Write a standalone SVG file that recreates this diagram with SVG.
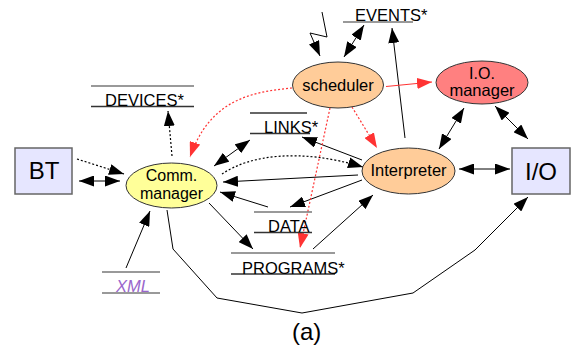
<svg xmlns="http://www.w3.org/2000/svg" width="577" height="354" viewBox="0 0 577 354">
<defs>
<marker id="ah" markerUnits="userSpaceOnUse" markerWidth="15" markerHeight="11" refX="15" refY="5.5" orient="auto-start-reverse"><path d="M0,0 L15,5.5 L0,11 z" fill="#000"/></marker>
<marker id="ahr" markerUnits="userSpaceOnUse" markerWidth="15" markerHeight="11" refX="15" refY="5.5" orient="auto-start-reverse"><path d="M0,0 L15,5.5 L0,11 z" fill="#ff3333"/></marker>
</defs>
<style>
text{font-family:"Liberation Sans",Arial,sans-serif;fill:#000}
.box{fill:#e6e6ff;stroke:#666;stroke-width:1.5}
.ell{stroke:#333;stroke-width:1}
.c{fill:none;stroke:#000;stroke-width:1}
.d{fill:none;stroke:#000;stroke-width:1.2;stroke-dasharray:2,2}
.r{fill:none;stroke:#ff3333;stroke-width:1.2;stroke-dasharray:2,2}
.rs{fill:none;stroke:#ff3333;stroke-width:1}
.a{marker-end:url(#ah)}
.aa{marker-end:url(#ah);marker-start:url(#ah)}
.ar{marker-end:url(#ahr)}
.lt{stroke:#777;stroke-width:1.5}
.lb{stroke:#333;stroke-width:1.5}
.lbl{font-size:16.5px}
</style>
<g id="connectors">
<path class="d a" d="M77,159 L124,174"/>
<path class="c aa" d="M79,181 L120,181"/>
<path class="d a" d="M172,156 L168,111"/>
<path class="r ar" d="M292,88 C250,92 210,100 190,157"/>
<path class="c aa" d="M214,166 L250,140"/>
<path class="d a" d="M222,174 C250,155 300,148 363,167"/>
<path class="c a" d="M358,175 L223,182"/>
<path class="c a" d="M362,160 L302,137"/>
<path class="c a" d="M268,207 L220,192"/>
<path class="c a" d="M362,180 L290,207"/>
<path class="r ar" d="M330,108 L300,248"/>
<path class="r ar" d="M352,107 L377,148"/>
<path class="c a" d="M209,203 L253,249"/>
<path class="c a" d="M313,249 L373,195"/>
<path class="c a" d="M167,210 L173,249 L217,298 L302,313 L413,293 L475,250 L528,197"/>
<path class="c a" d="M126,268 L150,211"/>
<path class="c a" d="M322,12 L327,37 L310,33 L320,56"/>
<path class="c aa" d="M344,57 L364,25"/>
<path class="c a" d="M405,138 L392,28"/>
<path class="rs ar" d="M386,86.5 L432,82"/>
<path class="c aa" d="M439,149 L464,108"/>
<path class="c aa" d="M495,106 L528,139"/>
<path class="c aa" d="M459,169 L510,169"/>
</g>
<g id="BT">
<rect class="box" x="15" y="148" width="57" height="46"/>
<text x="44" y="179" font-size="24" text-anchor="middle">BT</text>
</g>
<g id="IO">
<rect class="box" x="512" y="148" width="58" height="46"/>
<text x="541" y="180" font-size="24" text-anchor="middle">I/O</text>
</g>
<g id="comm">
<ellipse class="ell" cx="171.5" cy="185.5" rx="45.5" ry="22.5" fill="#ffff99"/>
<text x="171.5" y="181" font-size="16" text-anchor="middle">Comm.</text>
<text x="171.5" y="199" font-size="16" text-anchor="middle">manager</text>
</g>
<g id="scheduler">
<ellipse class="ell" cx="338" cy="85" rx="45.5" ry="23" fill="#ffcc99"/>
<text x="338" y="91" font-size="16.5" text-anchor="middle">scheduler</text>
</g>
<g id="iomanager">
<ellipse class="ell" cx="482" cy="82.5" rx="46" ry="21.5" fill="#ff8080"/>
<text x="482" y="79" font-size="16" text-anchor="middle">I.O.</text>
<text x="482" y="96" font-size="16.5" text-anchor="middle">manager</text>
</g>
<g id="interpreter">
<ellipse class="ell" cx="408.5" cy="171" rx="46.5" ry="23" fill="#ffcc99"/>
<text x="408.5" y="176" font-size="16.5" text-anchor="middle">Interpreter</text>
</g>
<g id="devices">
<line class="lt" x1="91" y1="86" x2="194" y2="86"/>
<line class="lb" x1="91" y1="106.5" x2="194" y2="106.5"/>
<text class="lbl" x="105" y="106">DEVICES*</text>
</g>
<g id="links">
<line class="lb" x1="250" y1="113" x2="307" y2="113"/>
<line class="lb" x1="250" y1="133.5" x2="310" y2="133.5"/>
<text class="lbl" x="264" y="133">LINKS*</text>
</g>
<g id="events">
<line class="lt" x1="343" y1="22" x2="413" y2="22"/>
<text class="lbl" x="355" y="21">EVENTS*</text>
</g>
<g id="data">
<line class="lt" x1="254" y1="212" x2="312" y2="212"/>
<line class="lb" x1="254" y1="232.5" x2="312" y2="232.5"/>
<text class="lbl" x="268" y="232" font-size="16">DATA</text>
</g>
<g id="programs">
<line class="lt" x1="231" y1="253" x2="335" y2="253"/>
<line class="lb" x1="231" y1="274" x2="335" y2="274"/>
<text class="lbl" x="242" y="274">PROGRAMS*</text>
</g>
<g id="xml">
<line class="lt" x1="102" y1="272" x2="160" y2="272"/>
<line class="lt" x1="102" y1="293" x2="160" y2="293"/>
<text class="lbl" x="116" y="292" font-style="italic" style="fill:#9966cc">XML</text>
</g>
<text x="292" y="340" font-size="24">(a)</text>
</svg>
